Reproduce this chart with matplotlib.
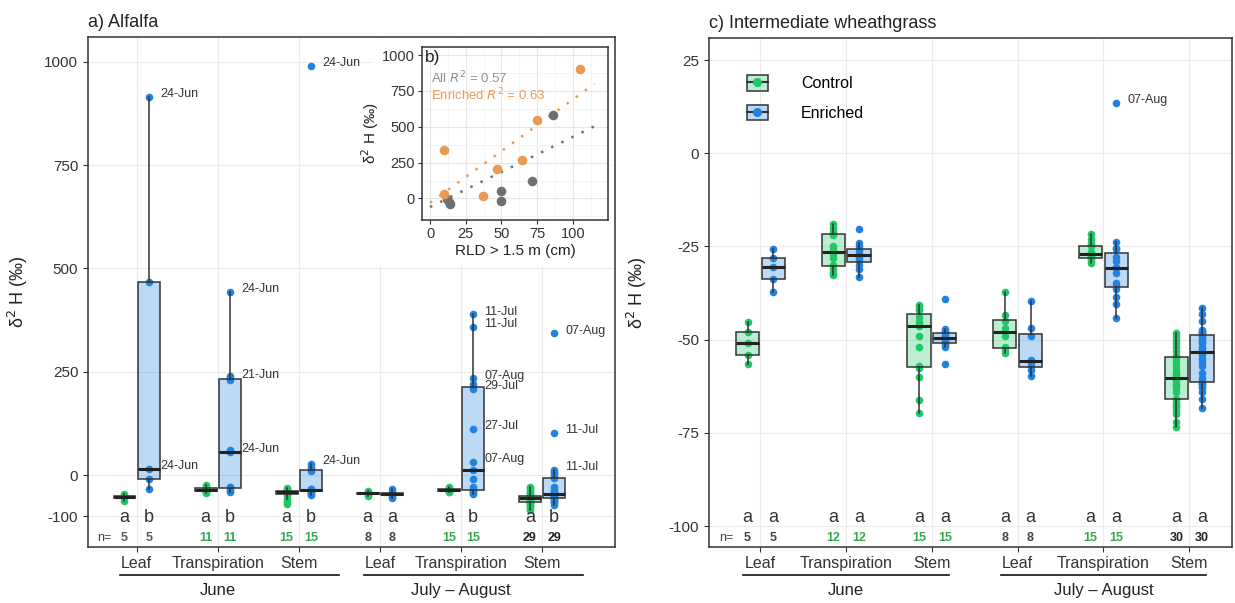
import numpy as np
import matplotlib
matplotlib.use('Agg')
import matplotlib.pyplot as plt
from matplotlib.colors import to_rgba
from matplotlib.patches import Patch, Rectangle
from matplotlib.lines import Line2D

plt.rcParams['font.family'] = ['Liberation Sans', 'DejaVu Sans']

# ---- data ----
tissues = ['Leaf', 'Transpiration', 'Stem', 'Leaf', 'Transpiration', 'Stem']
periods = ['June', 'July \u2013 August']

# a) Alfalfa, d2H per group (June Leaf, Transp, Stem, Jul-Aug Leaf, Transp, Stem)
alf_control = [
    [-62, -56, -53, -50, -46],
    [-44, -42, -40, -38, -37, -35, -34, -33, -31, -28, -24],
    [-70, -65, -58, -48, -45, -44, -43, -42, -41, -40, -39, -38, -36, -33, -31],
    [-50, -48, -46, -45, -44, -43, -41, -38],
    [-42, -40, -39, -38, -37, -37, -36, -36, -35, -35, -34, -33, -32, -31, -29],
    [-85, -80, -76, -72, -70, -68, -66, -65, -64, -62, -60, -58, -57, -56, -56,
     -55, -54, -53, -52, -51.5, -51, -50, -48, -46, -44, -40, -36, -32, -29],
]
alf_enriched = [
    [-34, -10, 15, 467, 915],
    [-40, -38, -33, -30, -28, 56, 60, 230, 236, 240, 443],
    [-48, -46, -44, -40, -38, -36, -36, -35, -34, -33, 10, 14, 20, 27, 990],
    [-56, -52, -48, -47, -45, -44, -40, -34],
    [-46, -44, -40, -36, -35, -30, -9, 12, 31, 111, 208, 220, 234, 358, 389],
    [-72, -68, -64, -62, -60, -58, -56, -55, -54, -52, -50, -49, -48, -47, -46,
     -45, -44, -42, -40, -35, -30, -8, -5, 0, 5, 8, 12, 103, 343],
]
alf_letters_c = ['a', 'a', 'a', 'a', 'a', 'a']
alf_letters_e = ['b', 'b', 'b', 'a', 'b', 'b']
alf_dates = [(0, 915, '24-Jun'), (0, 15, '24-Jun'), (1, 443, '24-Jun'), (1, 236, '21-Jun'),
             (1, 56, '24-Jun'), (2, 27, '24-Jun'), (2, 990, '24-Jun'), (4, 389, '11-Jul'),
             (4, 358, '11-Jul'), (4, 234, '07-Aug'), (4, 208, '29-Jul'), (4, 111, '27-Jul'),
             (4, 31, '07-Aug'), (5, 343, '07-Aug'), (5, 103, '11-Jul'), (5, 12, '11-Jul')]

# c) Intermediate wheatgrass
iwg_control = [
    [-56.5, -54, -51, -48, -45.3],
    [-32.7, -32, -31, -30, -28, -27, -26, -25, -22, -21, -20, -19],
    [-69.7, -66.2, -60, -57.6, -57, -52, -49, -46.4, -46, -45.3, -44, -42, -41.8, -41, -40.7],
    [-53.6, -52.8, -52, -49, -47, -45, -43.4, -37.2],
    [-29.5, -29, -28.5, -28.2, -28, -27.5, -27.2, -27, -26.8, -26.5, -25, -24.6, -24, -23, -21.7],
    [-73.4, -72, -70, -69, -68, -67.5, -67, -66, -65.8, -64, -63, -62.5, -62, -61, -60.5,
     -60, -59.5, -59, -58, -57, -56, -55, -54.5, -54.3, -53, -52, -51, -50, -49, -48.2],
]
iwg_enriched = [
    [-37.2, -33.7, -30.5, -28, -25.7],
    [-33.2, -31, -30, -29, -28, -27.5, -27.3, -27, -26, -25, -24, -20.3],
    [-56.5, -52, -51.5, -51, -50.8, -50.5, -50, -49.5, -49.3, -49, -48.5, -48, -47.8, -47.2, -39.1],
    [-59.8, -58, -57, -56, -55.4, -49, -47, -39.6],
    [-44.2, -40.4, -38.6, -36.5, -35.5, -34.8, -32.2, -30.8, -30.5, -29, -27.8, -25.8, -25.4, -23.8, 13.4],
    [-68.3, -66, -64, -63, -62.5, -62, -61.8, -61.6, -61, -60.3, -59, -57, -56, -55.2, -54,
     -52.5, -52, -51, -50.5, -50, -49.5, -49, -48.5, -48.2, -48, -47.8, -47.4, -45, -43, -41.5],
]
iwg_letters_c = ['a', 'a', 'a', 'a', 'a', 'a']
iwg_letters_e = ['a', 'a', 'a', 'a', 'a', 'a']
iwg_dates = [(4, 13.4, '07-Aug')]

# b) inset: RLD below 1.5 m vs d2H
rld_all = [12, 13, 14, 50, 50, 71, 86]
d2h_all = [-5, -25, -40, -20, 55, 125, 580]
rld_enr = [10, 10, 37, 47, 64, 75, 105]
d2h_enr = [340, 28, 14, 203, 266, 545, 902]
all_fit = (4.9, -60)      # slope, intercept
r2_all = 0.57
r2_enr = 0.63

# ---- style ----
c_green = '#20c865'
c_blue = '#2282e0'
c_orange = '#e89b55'
c_grey = '#707070'
edge = '#333333'
n_cols_alf = ['#5a5a5a', '#35a84e', '#35a84e', '#444444', '#35a84e', '#222222']
n_cols_iwg = ['#444444', '#35a84e', '#35a84e', '#444444', '#35a84e', '#222222']

fig = plt.figure(figsize=(12.35, 6.03), dpi=100)
ax1 = fig.add_axes([88 / 1235, 1 - 547 / 603, 527 / 1235, 510 / 603])
ax2 = fig.add_axes([709 / 1235, 1 - 547 / 603, 523 / 1235, 509 / 603])

pos = np.arange(1, 7)


def draw_panel(ax, control, enriched, letters_c, letters_e, dates, ylim, yticks,
               xlim, y_letter, y_n, n_cols, spans):
    for data, off, col in ((control, -0.15, c_green), (enriched, 0.15, c_blue)):
        for p, vals in zip(pos, data):
            ax.scatter(np.full(len(vals), p + off), vals, s=30, color=col,
                       linewidths=0, zorder=2)
        ax.boxplot(data, positions=pos + off, widths=0.27, patch_artist=True,
                   showcaps=False, showfliers=False, manage_ticks=False, zorder=3,
                   boxprops=dict(facecolor=to_rgba(col, 0.3), edgecolor=edge, linewidth=1.1),
                   medianprops=dict(color='#222222', linewidth=2.2),
                   whiskerprops=dict(color=edge, linewidth=1.1))
    for g, v, txt in dates:
        ax.annotate(txt, (pos[g] + 0.15, v), xytext=(8, 2), textcoords='offset points',
                    fontsize=9, color='#333333', va='center', ha='left', annotation_clip=False)
    for i in range(6):
        ax.text(pos[i] - 0.15, y_letter, letters_c[i], ha='center', va='center', fontsize=13, color='#333333')
        ax.text(pos[i] + 0.15, y_letter, letters_e[i], ha='center', va='center', fontsize=13, color='#333333')
        for off, n in ((-0.15, len(control[i])), (0.15, len(enriched[i]))):
            ax.text(pos[i] + off, y_n, str(n), ha='center', va='center', fontsize=9,
                    fontweight='bold', color=n_cols[i])
    ax.text(0.6, y_n, 'n=', ha='center', va='center', fontsize=9, color='#444444')

    ax.set_xlim(*xlim)
    ax.set_ylim(*ylim)
    ax.set_yticks(yticks)
    ax.set_yticklabels([str(t) for t in yticks])
    ax.set_xticks(pos)
    ax.set_xticklabels(tissues)
    ax.tick_params(axis='both', direction='out', length=3.5, color=edge, labelcolor='#333333')
    ax.tick_params(axis='x', labelsize=11.5, pad=3)
    ax.tick_params(axis='y', labelsize=11)
    ax.grid(True, color='#ebebeb', linewidth=0.8)
    ax.set_axisbelow(True)
    for s in ax.spines.values():
        s.set_color(edge)
        s.set_linewidth(1.1)
    ax.set_ylabel(r'δ$^{2}$ H (‰)', fontsize=13, color='#222222')
    trans = ax.get_xaxis_transform()
    for (a, b), label, cx in zip(spans, periods, (2, 5)):
        ax.plot([a, b], [-0.055, -0.055], transform=trans, clip_on=False, color='#111111', lw=1.2)
        ax.text(cx, -0.086, label, transform=trans, ha='center', va='center', fontsize=12, color='#222222')


draw_panel(ax1, alf_control, alf_enriched, alf_letters_c, alf_letters_e, alf_dates,
           (-174, 1060), [-100, 0, 250, 500, 750, 1000], (0.4, 6.9), -102, -153,
           n_cols_alf, [(0.8, 3.5), (3.8, 6.5)])
ax1.yaxis.set_label_coords(-0.11, 0.5)
ax1.set_title('a) Alfalfa', loc='left', fontsize=13, pad=7, color='#222222')

draw_panel(ax2, iwg_control, iwg_enriched, iwg_letters_c, iwg_letters_e, iwg_dates,
           (-105.6, 30.9), [-100, -75, -50, -25, 0, 25], (0.4, 6.5), -97.6, -103.2,
           n_cols_iwg, [(0.8, 3.2), (3.8, 6.2)])
ax2.yaxis.set_label_coords(-0.115, 0.5)
ax2.set_title('c) Intermediate wheathgrass', loc='left', fontsize=13, pad=7, color='#222222')

handles = [(Patch(facecolor=to_rgba(c, 0.3), edgecolor=edge, linewidth=1.1),
            Line2D([], [], color=edge, lw=1.5, marker='o', ms=5.5, mfc=c, mec=c))
           for c in (c_green, c_blue)]
ax2.legend(handles, ['Control', 'Enriched'], loc='upper left', bbox_to_anchor=(0.045, 0.955),
           frameon=False, fontsize=11.5, labelspacing=0.85, handlelength=1.3,
           handleheight=1.1, handletextpad=2.1)

# inset b)
fig.add_artist(Rectangle((372 / 1235, 1 - 266 / 603), 240 / 1235, 227 / 603,
                         transform=fig.transFigure, facecolor='white', edgecolor='none', zorder=1))
axi = fig.add_axes([422 / 1235, 1 - 220 / 603, 186 / 1235, 173 / 603], zorder=2)
axi.set_xlim(-5.6, 124.5)
axi.set_ylim(-150, 1056)
axi.set_xticks([0, 25, 50, 75, 100])
axi.set_yticks([0, 250, 500, 750, 1000])
axi.set_xticks([12.5, 37.5, 62.5, 87.5, 112.5], minor=True)
axi.set_yticks([-125, 125, 375, 625, 875], minor=True)
axi.grid(True, which='major', color='#e6e6e6', linewidth=0.8)
axi.grid(True, which='minor', color='#f2f2f2', linewidth=0.6)
axi.set_axisbelow(True)
axi.tick_params(which='major', direction='out', length=3, color=edge, labelsize=10.5,
                labelcolor='#333333', pad=2)
axi.tick_params(which='minor', length=0)
for s in axi.spines.values():
    s.set_color(edge)
    s.set_linewidth(1.1)

xfit = np.array([0, 115])
k_enr = np.polyfit(rld_enr, d2h_enr, 1)
axi.plot(xfit, all_fit[0] * xfit + all_fit[1], color=c_grey, lw=1.8, ls=(0, (1, 3.5)), zorder=2)
axi.plot(xfit, np.polyval(k_enr, xfit), color=c_orange, lw=1.8, ls=(0, (1, 3.5)), zorder=2)
axi.scatter(rld_all, d2h_all, s=48, color=c_grey, linewidths=0, zorder=3)
axi.scatter(rld_enr, d2h_enr, s=48, color=c_orange, linewidths=0, zorder=4)
axi.text(0.015, 0.985, 'b)', transform=axi.transAxes, ha='left', va='top', fontsize=12.5, color='#222222')
axi.text(0.05, 0.82, f'All $R^2$ = {r2_all:.2f}', transform=axi.transAxes, fontsize=9.5,
         color='#909090', va='center')
axi.text(0.05, 0.72, f'Enriched $R^2$ = {r2_enr:.2f}', transform=axi.transAxes, fontsize=9.5,
         color=c_orange, va='center')
axi.set_xlabel('RLD > 1.5 m (cm)', fontsize=11, color='#222222', labelpad=2)
axi.set_ylabel(r'δ$^{2}$ H (‰)', fontsize=11, color='#222222', labelpad=1)

fig.savefig('out.png', dpi=100)
